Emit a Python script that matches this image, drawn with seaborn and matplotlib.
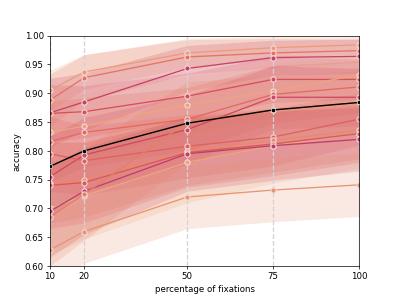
import matplotlib
matplotlib.use("Agg")
import matplotlib.pyplot as plt
import numpy as np
import pandas as pd
import seaborn as sns

# percentage of fixations used
pct = [10, 20, 50, 75, 100]

# per-subject accuracy
acc = {
    "s01": [0.905, 0.937, 0.970, 0.979, 0.984],
    "s02": [0.888, 0.927, 0.963, 0.970, 0.974],
    "s03": [0.866, 0.885, 0.943, 0.962, 0.964],
    "s04": [0.865, 0.868, 0.895, 0.924, 0.924],
    "s05": [0.832, 0.843, 0.880, 0.904, 0.932],
    "s06": [0.816, 0.832, 0.855, 0.898, 0.911],
    "s07": [0.755, 0.793, 0.837, 0.893, 0.893],
    "s08": [0.700, 0.722, 0.780, 0.809, 0.830],
    "s09": [0.795, 0.783, 0.808, 0.824, 0.855],
    "s10": [0.745, 0.750, 0.800, 0.818, 0.836],
    "s11": [0.740, 0.745, 0.797, 0.812, 0.830],
    "s12": [0.695, 0.730, 0.795, 0.809, 0.820],
    "s13": [0.685, 0.725, 0.850, 0.871, 0.884],
    "s14": [0.628, 0.660, 0.720, 0.732, 0.741],
}
# spread of each subject's accuracy (half width of band)
spread = {
    "s01": [0.035, 0.030, 0.025, 0.020, 0.015],
    "s02": [0.045, 0.040, 0.030, 0.025, 0.020],
    "s03": [0.060, 0.050, 0.040, 0.030, 0.030],
    "s04": [0.050, 0.045, 0.040, 0.040, 0.035],
    "s05": [0.060, 0.055, 0.050, 0.045, 0.040],
    "s06": [0.070, 0.060, 0.055, 0.050, 0.045],
    "s07": [0.070, 0.065, 0.060, 0.055, 0.050],
    "s08": [0.080, 0.075, 0.070, 0.065, 0.060],
    "s09": [0.065, 0.060, 0.055, 0.050, 0.045],
    "s10": [0.070, 0.065, 0.060, 0.055, 0.050],
    "s11": [0.075, 0.070, 0.060, 0.055, 0.050],
    "s12": [0.080, 0.075, 0.065, 0.060, 0.055],
    "s13": [0.085, 0.080, 0.070, 0.060, 0.055],
    "s14": [0.060, 0.055, 0.055, 0.055, 0.055],
}
# which shade of the palette each subject got
shade = {"s01": 1, "s02": 5, "s03": 11, "s04": 9, "s05": 0, "s06": 6,
         "s07": 10, "s08": 0, "s09": 7, "s10": 3, "s11": 8, "s12": 12,
         "s13": 4, "s14": 2}
mean_acc = [0.773, 0.800, 0.848, 0.871, 0.884]

rows = []
for s in acc:
    for p, a, e in zip(pct, acc[s], spread[s]):
        rows.append({"subject": s, "pct": p, "acc": a, "err": e})
df = pd.DataFrame(rows)

flare = sns.color_palette("flare", 24)
palette = {s: flare[i] for s, i in shade.items()}

fig, ax = plt.subplots(figsize=(6.4, 4.8), dpi=62.35)

# bands first
for s, g in df.groupby("subject", sort=False):
    ax.fill_between(g["pct"], g["acc"] - g["err"], g["acc"] + g["err"],
                    color=palette[s], alpha=0.2, linewidth=0)

for p in pct:
    ax.axvline(p, color="lightgray", linestyle="--", linewidth=1.5, zorder=1.5)

sns.lineplot(data=df, x="pct", y="acc", hue="subject", palette=palette,
             marker="o", markersize=6, markeredgecolor="#f6dce0",
             markeredgewidth=1.2, linewidth=1.5, legend=False, ax=ax, zorder=2)

ax.plot(pct, mean_acc, color="black", marker="o", markersize=5,
        markeredgecolor="#dddddd", markeredgewidth=0.8,
        linewidth=1.6, zorder=3)

ax.set_xlim(10, 100)
ax.set_ylim(0.60, 1.00)
ax.set_xticks(pct)
ax.set_yticks(np.arange(0.60, 1.001, 0.05))
ax.set_yticklabels([f"{v:.2f}" for v in np.arange(0.60, 1.001, 0.05)])
ax.set_xlabel("percentage of fixations")
ax.set_ylabel("accuracy")

plt.savefig("out.png", dpi=62.35)
